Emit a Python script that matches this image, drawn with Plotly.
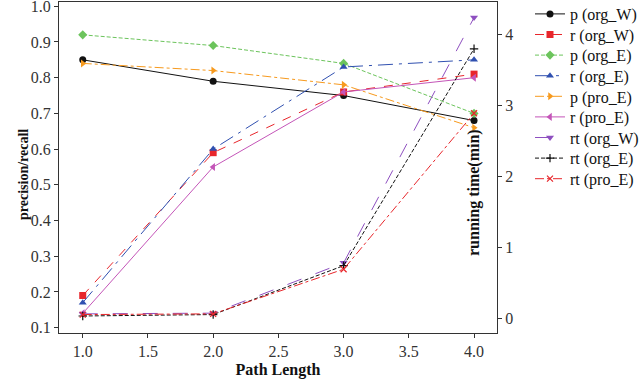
import plotly.graph_objects as go

path_length = [1.0, 2.0, 3.0, 4.0]

p_org_W = [0.85, 0.79, 0.75, 0.68]
r_org_W = [0.19, 0.59, 0.76, 0.81]
p_org_E = [0.92, 0.89, 0.84, 0.70]
r_org_E = [0.17, 0.60, 0.83, 0.85]
p_pro_E = [0.84, 0.82, 0.78, 0.66]
r_pro_E = [0.14, 0.55, 0.76, 0.80]
rt_org_W = [0.06, 0.07, 0.78, 4.24]
rt_org_E = [0.03, 0.05, 0.74, 3.80]
rt_pro_E = [0.05, 0.06, 0.69, 2.89]

x_ticks = [1.0, 1.5, 2.0, 2.5, 3.0, 3.5, 4.0]
y_ticks = [0.1, 0.2, 0.3, 0.4, 0.5, 0.6, 0.7, 0.8, 0.9, 1.0]
y2_ticks = [0, 1, 2, 3, 4]

FONT = "Liberation Serif"

series = [
    ("p (org_W)", p_org_W, "y", "#111111", "solid", "circle"),
    ("r (org_W)", r_org_W, "y", "#e8262b", "dash", "square"),
    ("p (org_E)", p_org_E, "y", "#6cc45c", "4px,2px", "diamond"),
    ("r (org_E)", r_org_E, "y", "#3050b0", "longdashdot", "triangle-up"),
    ("p (pro_E)", p_pro_E, "y", "#f79a1e", "dashdot", "triangle-right"),
    ("r (pro_E)", r_pro_E, "y", "#c455b8", "solid", "triangle-left"),
    ("rt (org_W)", rt_org_W, "y2", "#8e4fc0", "longdash", "triangle-down"),
    ("rt (org_E)", rt_org_E, "y2", "#111111", "4px,2px", "cross-thin"),
    ("rt (pro_E)", rt_pro_E, "y2", "#e8262b", "dashdot", "x-thin"),
]

# plot area in pixels: left 59, right 497, top 2, bottom 333
fig = go.Figure()
legend_layouts = {}
for i, (name, vals, ax, color, dash, sym) in enumerate(series):
    thin = sym.endswith("-thin")
    lg = "legend" if i == 0 else f"legend{i + 1}"
    fig.add_trace(go.Scatter(
        x=path_length, y=vals, name=name, yaxis=ax, mode="lines+markers",
        legend=lg,
        line=dict(color=color, width=1, dash=dash),
        marker=dict(symbol=sym, size=7 if not thin else 6, color=color,
                    line=dict(color=color, width=1.2 if thin else 0)),
    ))
    yc = 14 + 20.6 * i
    legend_layouts[lg] = dict(
        x=(530 - 59) / 438, y=(333 - yc) / 331, xanchor="left", yanchor="middle",
        font=dict(family=FONT, size=16, color="#111111"),
        bgcolor="rgba(0,0,0,0)", borderwidth=0)

axis_common = dict(ticks="outside", ticklen=4, tickcolor="#333", showline=True,
                   linecolor="#333", linewidth=1, showgrid=False, zeroline=False,
                   automargin=False, ticklabeloverflow="allow",
                   tickfont=dict(family=FONT, size=16, color="#333"))

fig.update_layout(
    width=639, height=383,
    margin=dict(l=59, r=142, t=2, b=50, autoexpand=False),
    paper_bgcolor="white", plot_bgcolor="white",
    font=dict(family=FONT, size=16, color="#222222"),
    showlegend=True,
    xaxis=dict(range=[0.818, 4.176], tickvals=x_ticks,
               ticktext=[f"{v:.1f}" for v in x_ticks], mirror=True,
               title=dict(text="<b>Path Length</b>", font=dict(family=FONT, size=16, color="#111"), standoff=4),
               **axis_common),
    yaxis=dict(range=[0.085, 1.012], tickvals=y_ticks,
               ticktext=[f"{v:.1f}" for v in y_ticks], mirror=True,
               **axis_common),
    yaxis2=dict(overlaying="y", side="right", range=[-0.21, 4.46], tickvals=y2_ticks,
                **axis_common),
    **legend_layouts,
)

fig.add_annotation(text="<b>precision/recall</b>", xref="paper", yref="paper",
                   x=(14 - 59) / 438, y=(333 - 174.5) / 331, textangle=-90, showarrow=False,
                   font=dict(family=FONT, size=14, color="#111"))
fig.add_annotation(text="<b>running time(min)</b>", xref="paper", yref="paper",
                   x=(485 - 59) / 438, y=(333 - 193) / 331, textangle=-90, showarrow=False,
                   font=dict(family=FONT, size=16, color="#111"))

fig.write_html("out.html", config={"displayModeBar": False},
               post_script="document.body.style.margin='0';document.body.style.overflow='hidden';")
